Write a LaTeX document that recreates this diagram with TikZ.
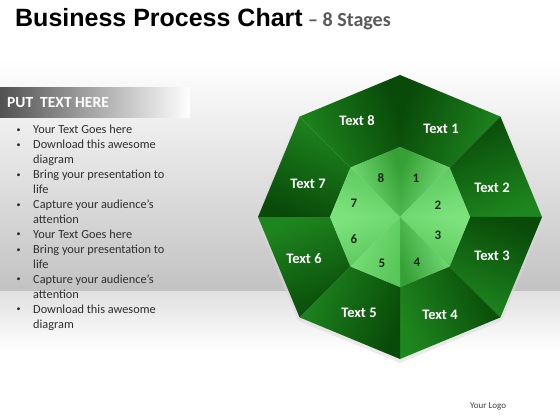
\documentclass[tikz,border=0pt]{standalone}
\usepackage{fontspec}
\setmainfont{Carlito}
\newfontfamily\arialfont{Liberation Sans}
\usetikzlibrary{calc}
\definecolor{OD}{HTML}{094A09}
\definecolor{OM}{HTML}{1E861E}
\definecolor{IL}{HTML}{7CE27C}
\definecolor{IM}{HTML}{58C658}
\definecolor{ID}{HTML}{36A036}
\definecolor{numcol}{HTML}{1A2A1A}
\definecolor{subgray}{HTML}{5A5A5A}
\tikzset{
  bodytext/.style={anchor=base west, inner sep=0pt, font=\fontsize{12.3}{15}\selectfont, text=black!82},
  bulletmark/.style={anchor=base west, inner sep=0pt, font=\fontsize{8}{10}\selectfont, text=black!85},
  outerlabel/.style={inner sep=0pt, font=\bfseries\fontsize{14.5}{16}\selectfont, text=white},
  innerlabel/.style={inner sep=0pt, font=\bfseries\fontsize{13}{14}\selectfont, text=numcol},
}
\begin{document}
\begin{tikzpicture}[x=1pt,y=1pt]
\useasboundingbox (0,0) rectangle (560,420);
% background
\fill[white] (0,0) rectangle (560,420);
\shade[top color=white, middle color=gray!14, bottom color=gray!48] (0,128) rectangle (560,360);
\shade[top color=gray!24, bottom color=white] (0,70) rectangle (560,128);
% header bar
\shade[left color=black!68, middle color=black!48, right color=white] (0,302) rectangle (190,332);
\node[anchor=base west, inner sep=0pt, text=white, font=\bfseries\fontsize{15.5}{17}\selectfont] (hdr) at (7,312) {PUT\ \ TEXT HERE};
% title
\node[anchor=base west, inner sep=0pt, font=\arialfont\bfseries\fontsize{25}{28}\selectfont] (title) at (15,393) {Business Process Chart};
\node[anchor=base west, inner sep=0pt, text=subgray, font=\bfseries\fontsize{20}{22}\selectfont] (subtitle) at (308,393) {– 8 Stages};
% bullets
\foreach \yy/\txt [count=\n] in {
  286/Your Text Goes here,
  271/Download this awesome,
  256/diagram,
  241/Bring your presentation to,
  226.5/life,
  211/Capture your audience’s,
  196.5/attention,
  181.5/Your Text Goes here,
  166/Bring your presentation to,
  151.5/life,
  136.5/Capture your audience’s,
  121.5/attention,
  106.5/Download this awesome,
  91.5/diagram}
  {\node[bodytext] (line\n) at (33,\yy) {\txt};}
\foreach \yy [count=\n] in {286,271,241,211,181.5,166,136.5,106.5}
  {\node[bulletmark] (bul\n) at (16.5,\yy+1.5) {•};}
% octagon geometry
\coordinate (c) at (400,203);
\foreach \j in {0,...,7}{
  \path (c) ++({90-45*\j}:142) coordinate (o\j);
  \path (c) ++({90-45*\j}:70) coordinate (i\j);
}
% soft shadow
\fill[gray!30, opacity=0.5] ($(c)+(0,-2)$) ++(90:144) \foreach \j in {1,...,7}{ -- ($(c)+(0,-2)+({90-45*\j}:144)$)} -- cycle;
% sectors
\foreach \k/\oa/\ob/\ia/\ib in {1/OD/OM/ID/IL, 2/OD/OM/IM/IL, 3/OD/OM/IL/IM, 4/OD/OM/IL/ID, 5/OD/OM/IM/IL, 6/OD/OM/IM/IL, 7/OD/OM/IL/IM, 8/OM/OD/IL/ID}{
  \pgfmathtruncatemacro{\ja}{\k-1}
  \pgfmathtruncatemacro{\jb}{mod(\k,8)}
  \pgfmathsetmacro{\mm}{112.5-45*\k}
  \shade[top color=\oa, bottom color=\ob, shading angle=\mm] (i\ja) -- (o\ja) -- (o\jb) -- (i\jb) -- cycle;
  \shade[top color=\ia, bottom color=\ib, shading angle=\mm] (c) -- (i\ja) -- (i\jb) -- cycle;
}
% outer labels
\node[outerlabel] (t1) at (441,291) {Text 1};
\node[outerlabel] (t2) at (492,232) {Text 2};
\node[outerlabel] (t3) at (492,164) {Text 3};
\node[outerlabel] (t4) at (440,105) {Text 4};
\node[outerlabel] (t5) at (359,107) {Text 5};
\node[outerlabel] (t6) at (304,161) {Text 6};
\node[outerlabel] (t7) at (308,236) {Text 7};
\node[outerlabel] (t8) at (357,299) {Text 8};
% inner labels
\node[innerlabel] (n1) at (416,242) {1};
\node[innerlabel] (n2) at (438,215) {2};
\node[innerlabel] (n3) at (438,185) {3};
\node[innerlabel] (n4) at (417,158) {4};
\node[innerlabel] (n5) at (382,157) {5};
\node[innerlabel] (n6) at (354,181) {6};
\node[innerlabel] (n7) at (354,217) {7};
\node[innerlabel] (n8) at (381,242) {8};
% logo
\node[anchor=base west, inner sep=0pt, text=black!75, font=\fontsize{9}{10}\selectfont] (logo) at (470,11) {Your Logo};
\end{tikzpicture}
\end{document}
